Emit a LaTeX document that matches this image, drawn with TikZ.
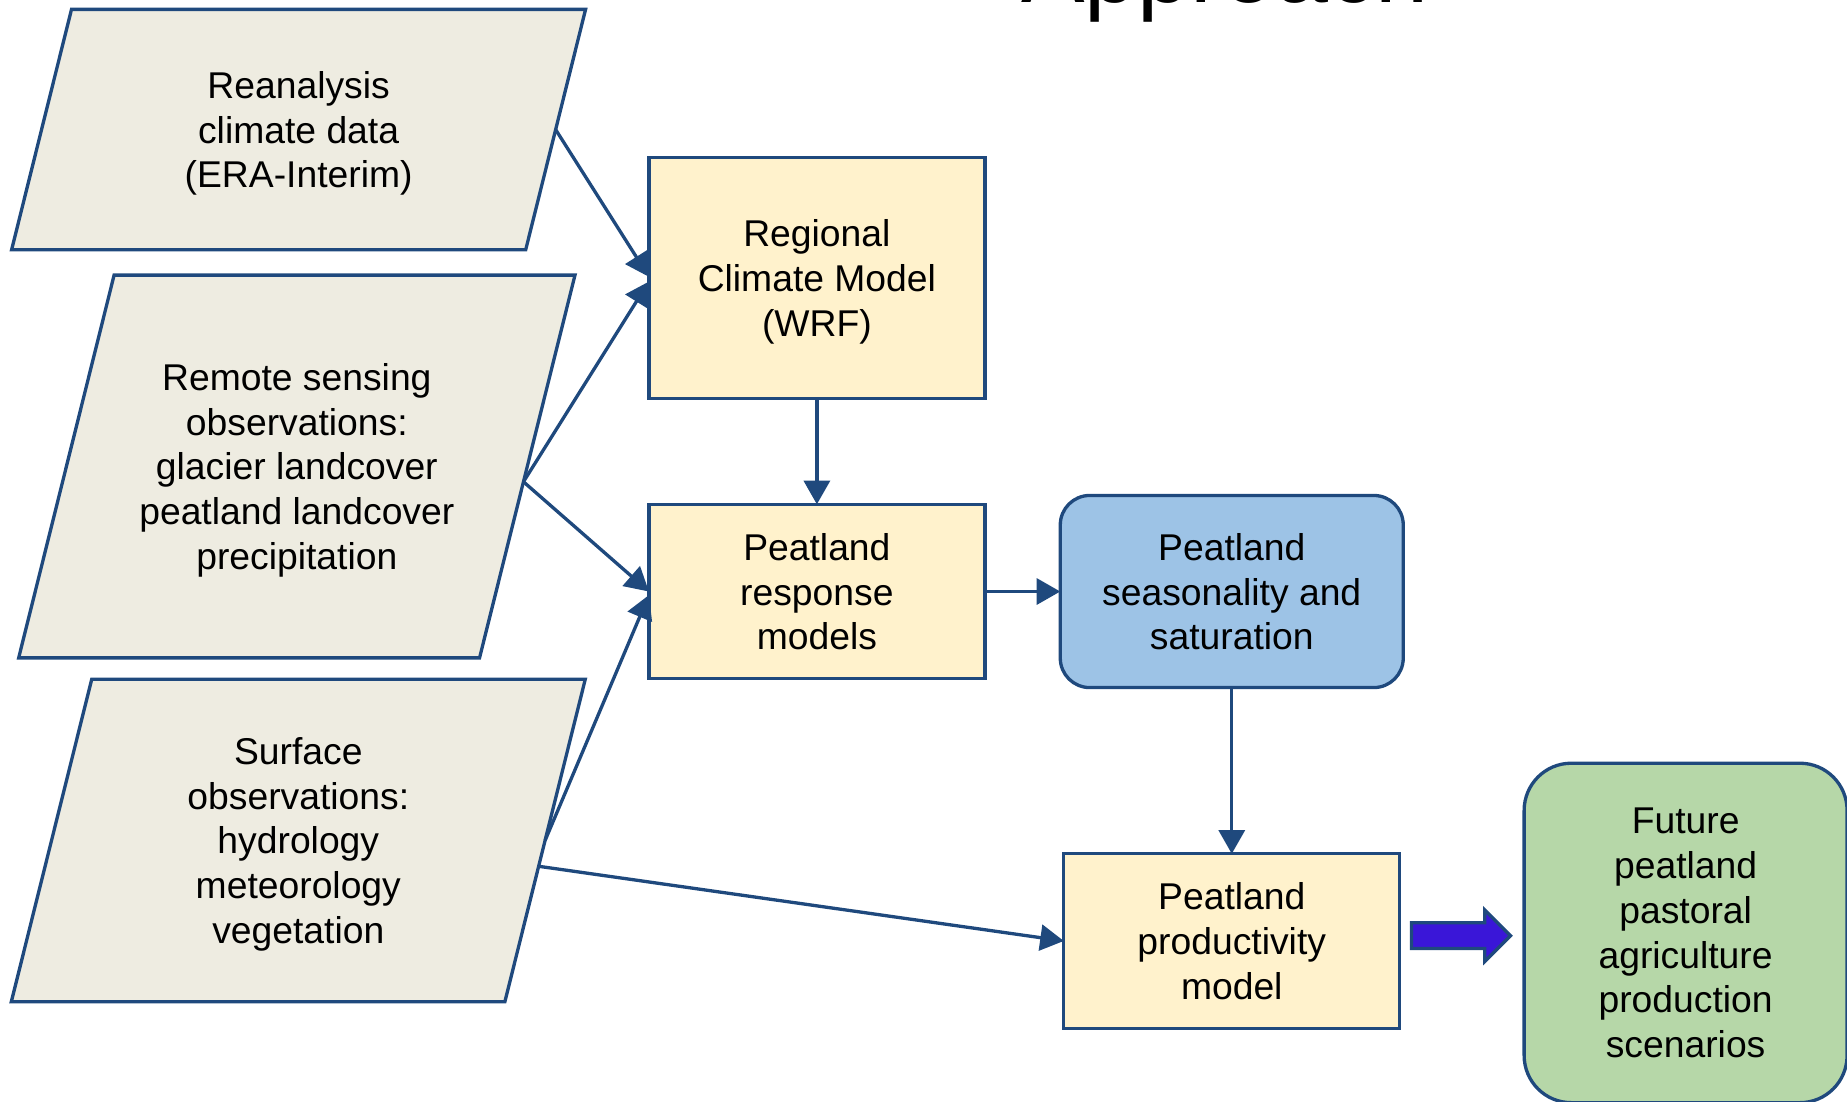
\documentclass[tikz,border=0pt]{standalone}
\usepackage{fontspec}
\setmainfont{Liberation Sans}
\usepackage{tikz}
\usetikzlibrary{arrows.meta,positioning,shapes.geometric,shapes.arrows,calc}
\definecolor{cEdge}{HTML}{1F497D}
\definecolor{cIn}{HTML}{EEECE1}
\definecolor{cModel}{HTML}{FFF2CC}
\definecolor{cSeason}{HTML}{9DC3E6}
\definecolor{cFuture}{HTML}{B6D7A8}
\definecolor{cFat}{HTML}{3A16D8}
\tikzset{
  box/.style={rectangle, draw=cEdge, line width=0.8pt, fill=cModel, align=center, outer sep=0pt, minimum width=2.85cm, text depth=0pt, font={\fontsize{9}{10.8}\selectfont}},
  rbox/.style={box, rounded corners=2.5mm},
  inbox/.style={trapezium, trapezium left angle=76, trapezium right angle=104, trapezium stretches body, draw=cEdge, line width=0.8pt, fill=cIn, align=center, outer sep=0pt, text depth=0pt, font={\fontsize{9}{10.8}\selectfont}},
  arrow/.style={-{Triangle[length=2mm,width=2.2mm]}, line width=0.8pt, draw=cEdge},
  fatarrow/.style={single arrow, single arrow head extend=1.1mm, single arrow tip angle=90, draw=cEdge, line width=0.8pt, fill=cFat, minimum height=8.4mm, minimum width=4.1mm, inner xsep=0pt, inner ysep=0.95mm, outer sep=0pt}
}
\begin{document}
\begin{tikzpicture}[x=0.01cm, y=-0.01cm]
  \useasboundingbox (0,0) rectangle (1568,935);
  \node[anchor=base, font={\fontsize{23}{27}\selectfont}] (title) at (1040,2.5) {Approach};
  \node[inbox, inner ysep=5.25mm, minimum width=4.87cm, minimum height=2.04cm] (rean) at (253.5,110) {Reanalysis\\climate data\\(ERA-Interim)};
  \node[inbox, inner ysep=7.5mm, minimum width=4.72cm, minimum height=3.22cm] (rs) at (252,396) {Remote sensing\\observations:\\glacier landcover\\peatland landcover\\precipitation};
  \node[inbox, inner ysep=4.95mm, minimum width=4.87cm, minimum height=2.71cm] (sfc) at (253.25,713.5) {Surface\\observations:\\hydrology\\meteorology\\vegetation};
  \node[box, minimum height=2.04cm] (rcm) at (693.5,236) {Regional\\Climate Model\\(WRF)};
  \node[box, minimum height=1.48cm, below=9mm of rcm] (resp) {Peatland\\response\\models};
  \node[rbox, fill=cSeason, minimum width=2.91cm, minimum height=1.63cm, right=6.4mm of resp] (season) {Peatland\\seasonality and\\saturation};
  \node[box, minimum height=1.48cm, below=14.1mm of season] (prod) {Peatland\\productivity\\model};
  \node[rbox, rounded corners=4mm, fill=cFuture, minimum width=2.74cm, minimum height=2.88cm] (future) at (1431,792) {Future\\peatland\\pastoral\\agriculture\\production\\scenarios};
  \node[fatarrow, anchor=tail] (fat) at ([xshift=1mm, yshift=0.045cm]prod.east) {};
  \coordinate (rsout) at ($(rs.top right corner)!0.54!(rs.bottom right corner)$);
  \coordinate (sfcout) at ($(sfc.top right corner)!0.58!(sfc.bottom right corner)$);
  \draw[arrow] (rean.right side) -- ([yshift=0.01cm]rcm.west);
  \draw[arrow] (rsout) -- ([yshift=-0.03cm]rcm.west);
  \draw[arrow] (rsout) -- (resp.west);
  \draw[arrow] (sfc.right side) -- ([yshift=-0.03cm]resp.west);
  \draw[arrow] (sfcout) -- (prod.west);
  \draw[arrow] (rcm) -- (resp);
  \draw[arrow] (resp) -- (season);
  \draw[arrow] (season) -- (prod);
\end{tikzpicture}
\end{document}
